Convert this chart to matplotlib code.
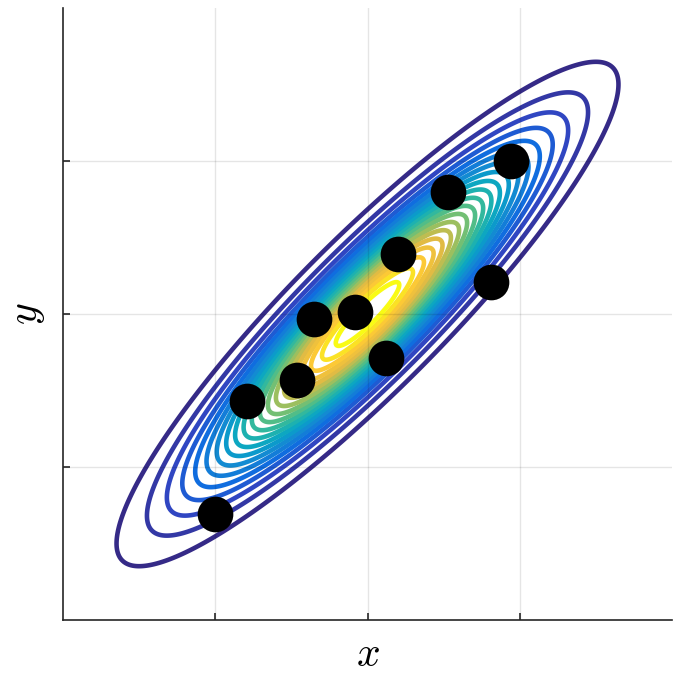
import numpy as np
import matplotlib
matplotlib.use("Agg")
import matplotlib.pyplot as plt
from matplotlib.colors import LinearSegmentedColormap

plt.rcParams["mathtext.fontset"] = "cm"

# data points
x_pts = [-1.00, -0.79, -0.46, -0.35, -0.08, 0.12, 0.20, 0.53, 0.81, 0.94]
y_pts = [-1.31, -0.57, -0.43, -0.03, 0.01, -0.29, 0.39, 0.80, 0.21, 1.00]

# Gaussian parameters
mu = [0.0, 0.0]
sigma = 0.668
rho = 0.91
n_levels = 20

parula_pts = [
    (0.00, (0.208, 0.166, 0.529)),
    (0.10, (0.190, 0.270, 0.760)),
    (0.20, (0.060, 0.420, 0.880)),
    (0.30, (0.080, 0.530, 0.830)),
    (0.40, (0.030, 0.640, 0.780)),
    (0.50, (0.140, 0.710, 0.660)),
    (0.60, (0.360, 0.750, 0.500)),
    (0.70, (0.650, 0.750, 0.350)),
    (0.80, (0.900, 0.730, 0.260)),
    (0.90, (0.990, 0.790, 0.210)),
    (1.00, (0.977, 0.984, 0.081)),
]
parula = LinearSegmentedColormap.from_list("parula", parula_pts)

fig = plt.figure(figsize=(6.73, 6.77), dpi=100)
ax = fig.add_axes([63/673, 1-620/677, 609/673, 612/677])

g = np.linspace(-2, 2, 600)
X, Y = np.meshgrid(g, g)
cov = sigma**2 * np.array([[1, rho], [rho, 1]])
inv = np.linalg.inv(cov)
dx, dy = X - mu[0], Y - mu[1]
Z = np.exp(-0.5 * (inv[0, 0]*dx*dx + 2*inv[0, 1]*dx*dy + inv[1, 1]*dy*dy))
Z = Z / (2*np.pi*np.sqrt(np.linalg.det(cov)))
levels = np.linspace(0, Z.max(), n_levels + 2)[1:-1]
ax.contour(X, Y, Z, levels=levels, cmap=parula, linewidths=3.3, zorder=1)

ax.scatter(x_pts, y_pts, s=660, color="black", zorder=5, linewidths=0)

ax.set_xlim(-2, 2)
ax.set_ylim(-2, 2)
ax.set_xticks([-1, 0, 1])
ax.set_yticks([-1, 0, 1])
ax.set_xticklabels([])
ax.set_yticklabels([])
ax.tick_params(direction="in", length=5, width=1.2, color="#262626")
ax.grid(True, color="black", alpha=0.1, linewidth=1)
ax.set_axisbelow(False)
for s in ["top", "right"]:
    ax.spines[s].set_visible(False)
for s in ["left", "bottom"]:
    ax.spines[s].set_color("#262626")
    ax.spines[s].set_linewidth(1.2)

ax.set_xlabel("$x$", fontsize=30, labelpad=6)
ax.set_ylabel("$y$", fontsize=30, labelpad=8)

fig.savefig("out.png", dpi=100)
